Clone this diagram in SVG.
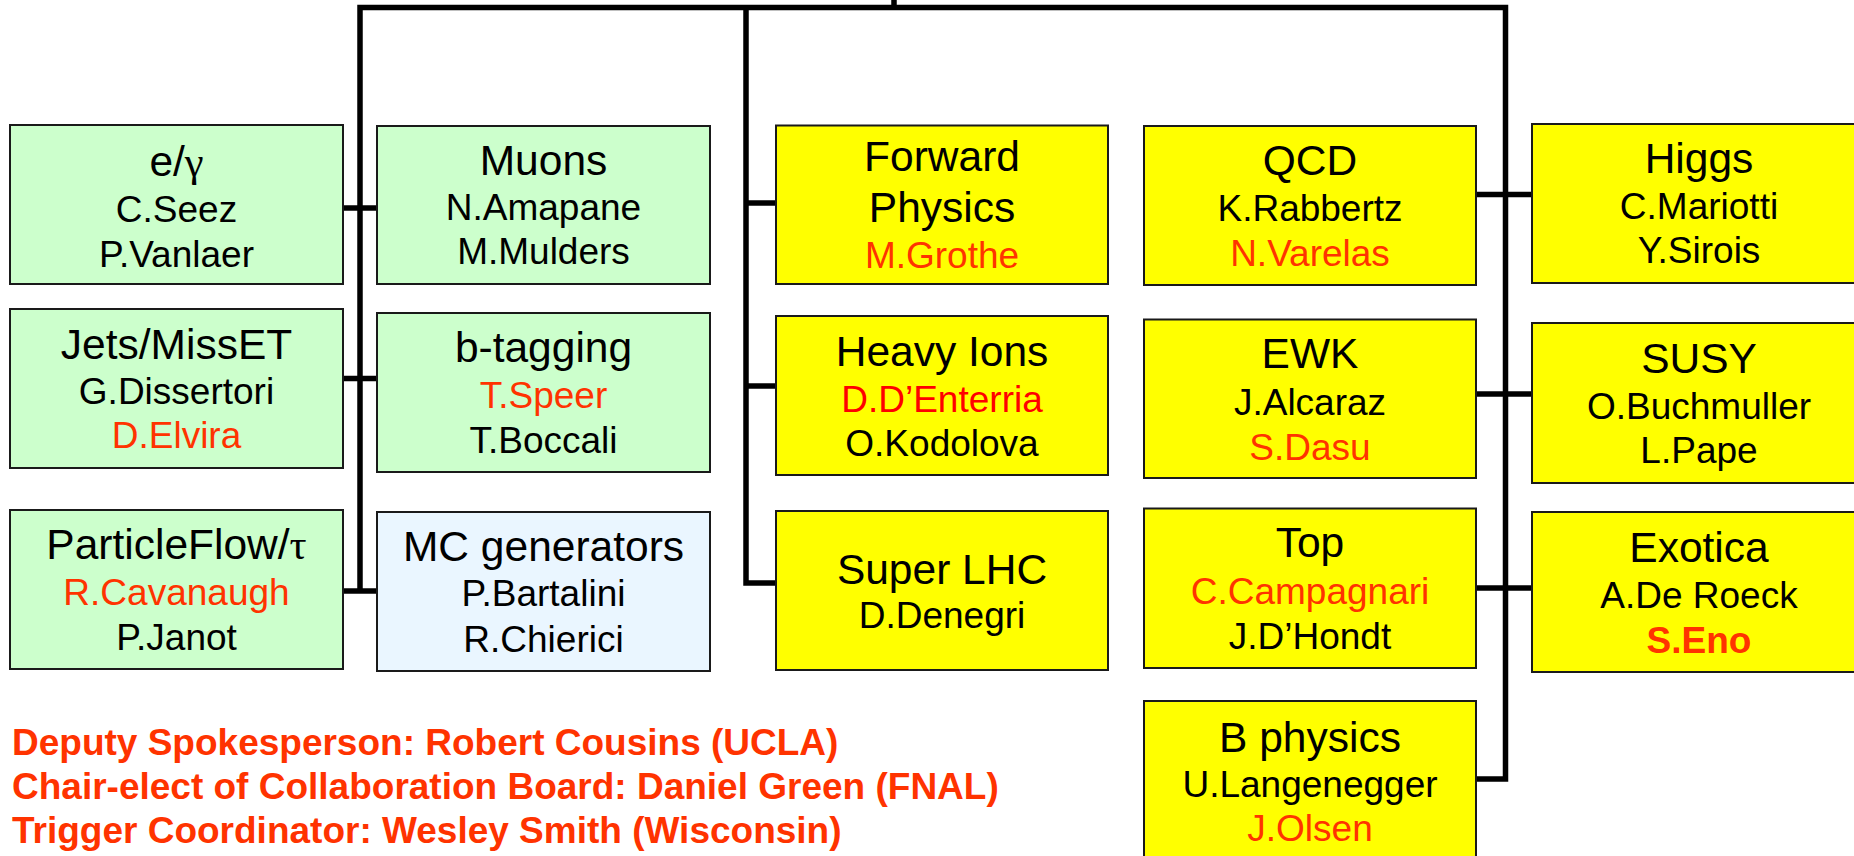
<svg xmlns="http://www.w3.org/2000/svg" width="1854" height="856" viewBox="0 0 1854 856">
<style>
.g{fill:#CCFFCC;stroke:#1a1a1a;stroke-width:2}
.y{fill:#FFFF00;stroke:#1a1a1a;stroke-width:2}
.b{fill:#EAF6FF;stroke:#1a1a1a;stroke-width:2}
text{font-family:"Liberation Sans",Arial,sans-serif;text-anchor:middle;fill:#000}
.t{font-size:42.5px}
.n{font-size:37px}
.r{fill:#FF3300}
.rr{fill:#FF0000}
.bd{font-weight:bold}
.sym{font-family:"Liberation Serif","Times New Roman",serif}
.foot{font-size:37px;font-weight:bold;fill:#FF3300;text-anchor:start}
.c{fill:none;stroke:#000;stroke-width:5.5;stroke-linejoin:miter}
</style>
<rect width="1854" height="856" fill="#fff"/>
<g id="connectors">
<path class="c" d="M894,0 V7.5"/>
<path class="c" d="M360,591 V7.5 H1505.5 V779 H1476"/>
<path class="c" d="M746,7.5 V583 H776"/>
<path class="c" d="M343,208 H377"/>
<path class="c" d="M343,378.5 H377"/>
<path class="c" d="M343,591 H377"/>
<path class="c" d="M746,203 H776"/>
<path class="c" d="M746,386 H776"/>
<path class="c" d="M1476,194.5 H1532"/>
<path class="c" d="M1476,394 H1532"/>
<path class="c" d="M1476,588 H1532"/>
</g>
<g id="egamma"><rect class="g" x="10" y="125" width="333" height="159"/>
<text class="t" x="176.5" y="175.5">e/<tspan class="sym">γ</tspan></text>
<text class="n" x="176.5" y="221.5">C.Seez</text>
<text class="n" x="176.5" y="266.5">P.Vanlaer</text></g>
<g id="jets"><rect class="g" x="10" y="309" width="333" height="159"/>
<text class="t" x="176.5" y="359">Jets/MissET</text>
<text class="n" x="176.5" y="404">G.Dissertori</text>
<text class="n r" x="176.5" y="448">D.Elvira</text></g>
<g id="pflow"><rect class="g" x="10" y="510" width="333" height="159"/>
<text class="t" x="176.5" y="559">ParticleFlow/<tspan class="sym">τ</tspan></text>
<text class="n r" x="176.5" y="605">R.Cavanaugh</text>
<text class="n" x="176.5" y="650">P.Janot</text></g>
<g id="muons"><rect class="g" x="377" y="126" width="333" height="158"/>
<text class="t" x="543.5" y="175">Muons</text>
<text class="n" x="543.5" y="220">N.Amapane</text>
<text class="n" x="543.5" y="263.5">M.Mulders</text></g>
<g id="btag"><rect class="g" x="377" y="313" width="333" height="159"/>
<text class="t" x="543.5" y="362">b-tagging</text>
<text class="n r" x="543.5" y="408">T.Speer</text>
<text class="n" x="543.5" y="453">T.Boccali</text></g>
<g id="mcgen"><rect class="b" x="377" y="512" width="333" height="159"/>
<text class="t" x="543.5" y="561">MC generators</text>
<text class="n" x="543.5" y="606">P.Bartalini</text>
<text class="n" x="543.5" y="651.5">R.Chierici</text></g>
<g id="forward"><rect class="y" x="776" y="125.5" width="332" height="158.5"/>
<text class="t" x="942" y="171">Forward</text>
<text class="t" x="942" y="222">Physics</text>
<text class="n r" x="942" y="268">M.Grothe</text></g>
<g id="heavyions"><rect class="y" x="776" y="316" width="332" height="159"/>
<text class="t" x="942" y="365.5">Heavy Ions</text>
<text class="n rr" x="942" y="411.5">D.D’Enterria</text>
<text class="n" x="942" y="456">O.Kodolova</text></g>
<g id="superlhc"><rect class="y" x="776" y="511" width="332" height="159"/>
<text class="t" x="942" y="583.5">Super LHC</text>
<text class="n" x="942" y="628">D.Denegri</text></g>
<g id="qcd"><rect class="y" x="1144" y="126" width="332" height="159"/>
<text class="t" x="1310" y="175">QCD</text>
<text class="n" x="1310" y="220.5">K.Rabbertz</text>
<text class="n r" x="1310" y="265.5">N.Varelas</text></g>
<g id="ewk"><rect class="y" x="1144" y="319.5" width="332" height="158.5"/>
<text class="t" x="1310" y="367.5">EWK</text>
<text class="n" x="1310" y="415">J.Alcaraz</text>
<text class="n r" x="1310" y="459.5">S.Dasu</text></g>
<g id="top"><rect class="y" x="1144" y="508.5" width="332" height="159.5"/>
<text class="t" x="1310" y="557">Top</text>
<text class="n r" x="1310" y="604">C.Campagnari</text>
<text class="n" x="1310" y="649">J.D’Hondt</text></g>
<g id="bphysics"><rect class="y" x="1144" y="701" width="332" height="170"/>
<text class="t" x="1310" y="752">B physics</text>
<text class="n" x="1310" y="797">U.Langenegger</text>
<text class="n r" x="1310" y="841">J.Olsen</text></g>
<g id="higgs"><rect class="y" x="1532" y="124" width="334" height="159"/>
<text class="t" x="1699" y="173">Higgs</text>
<text class="n" x="1699" y="219">C.Mariotti</text>
<text class="n" x="1699" y="263">Y.Sirois</text></g>
<g id="susy"><rect class="y" x="1532" y="323" width="334" height="160"/>
<text class="t" x="1699" y="372.5">SUSY</text>
<text class="n" x="1699" y="418.5">O.Buchmuller</text>
<text class="n" x="1699" y="463">L.Pape</text></g>
<g id="exotica"><rect class="y" x="1532" y="512" width="334" height="160"/>
<text class="t" x="1699" y="562">Exotica</text>
<text class="n" x="1699" y="608">A.De Roeck</text>
<text class="n r bd" x="1699" y="653">S.Eno</text></g>
<g id="footer">
<text class="foot" x="12" y="755">Deputy Spokesperson: Robert Cousins (UCLA)</text>
<text class="foot" x="12" y="799">Chair-elect of Collaboration Board: Daniel Green (FNAL)</text>
<text class="foot" x="12" y="843">Trigger Coordinator: Wesley Smith (Wisconsin)</text>
</g>
</svg>
